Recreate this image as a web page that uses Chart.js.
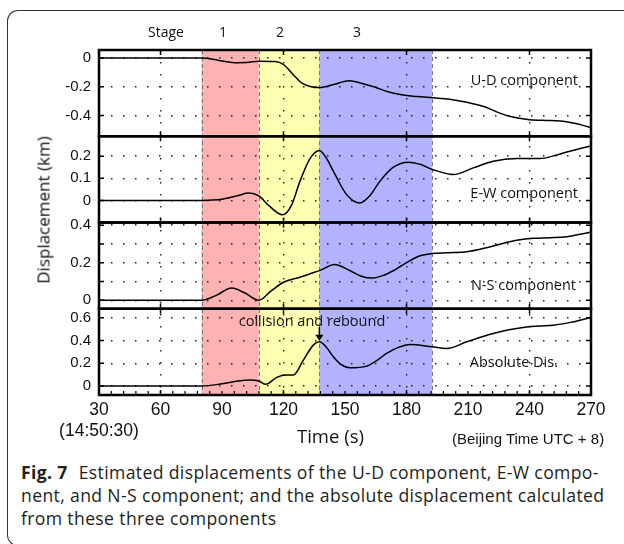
<!DOCTYPE html>
<html>
<head>
    <title>Estimated displacements</title>
    <meta charset="UTF-8">
    <style>
        body {
            margin: 0;
            width: 624px;
            height: 544px;
            overflow: hidden;
            background: #fff;
            position: relative;
            font-family: "Open Sans", sans-serif;
            color: #111;
        }
        #frame {
            position: absolute;
            left: 7px;
            top: 10px;
            width: 640px;
            height: 534px;
            border-left: 1.3px solid #333;
            border-top: 1.3px solid #333;
            border-bottom: 1.3px solid #333;
            border-radius: 11px 0 0 11px;
        }
        #chart {
            position: absolute;
            left: 0;
            top: 0;
        }
        .txt {
            position: absolute;
            line-height: 1;
            white-space: nowrap;
        }
        .stage { font-size: 14px; top: 25px; transform: translateX(-50%); }
        .comp { font-size: 14.5px; text-align: right; }
        #yTitle {
            position: absolute;
            left: 43px;
            top: 210px;
            font-size: 17px;
            line-height: 1;
            white-space: nowrap;
            transform: translate(-50%, -50%) rotate(-90deg);
        }
        #caption {
            position: absolute;
            left: 21px;
            top: 461px;
            font-size: 17.6px;
            letter-spacing: 0.36px;
            line-height: 23px;
            color: #231f20;
            white-space: nowrap;
        }
        #caption b { margin-right: 6px; }
    </style>
</head>
<body>
    <div id="frame"></div>
    <canvas id="chart" width="624" height="460"></canvas>

    <div class="txt stage" style="left:166px">Stage</div>
    <div class="txt stage" style="left:223px">1</div>
    <div class="txt stage" style="left:280px">2</div>
    <div class="txt stage" style="left:357px">3</div>

    <div class="txt comp" style="right:46px; top:73px">U-D component</div>
    <div class="txt comp" style="right:46px; top:186px">E-W component</div>
    <div class="txt comp" style="right:48px; top:278px">N-S component</div>
    <div class="txt comp" style="right:66px; top:355px">Absolute Dis.</div>
    <div class="txt comp" style="left:312px; top:314px; transform:translateX(-50%)">collision and rebound</div>

    <div id="yTitle">Displacement (km)</div>
    <div class="txt" style="left:297px; top:427px; font-size:18.5px">Time (s)</div>
    <div class="txt" style="left:452px; top:431px; font-size:15px; font-family:'Liberation Sans', Arial, sans-serif">(Beijing Time UTC + 8)</div>

    <div id="caption"><b>Fig. 7</b> Estimated displacements of the U-D component, E-W compo-<br>nent, and N-S component; and the absolute displacement calculated<br>from these three components</div>

    <script src="https://cdn.jsdelivr.net/npm/chart.js"></script>
    <script>
        // time axis (s)
        const xMin = 30;
        const xMax = 270;
        const xTickStep = 30;
        const xGridTicks = [60, 120, 180, 240];
        const startClock = '(14:50:30)';

        // stage boundaries (s) and colours
        const stageBounds = [80, 108, 137.5, 192.5];
        const stageColors = ['#ffb2b2', '#ffffb2', '#b2b2ff'];
        const collisionTime = 137.5;

        // U-D component
        const udTime = [30, 80, 88, 96, 102, 108, 116, 120, 125, 129, 133, 137.5, 145, 152, 158, 165, 171, 177, 185, 193, 201, 210, 218, 224, 229, 235, 240, 248, 255, 262, 270];
        const udValue = [0, 0, -0.015, -0.032, -0.031, -0.022, -0.024, -0.045, -0.12, -0.175, -0.198, -0.206, -0.182, -0.158, -0.175, -0.205, -0.235, -0.254, -0.268, -0.277, -0.287, -0.31, -0.34, -0.375, -0.4, -0.42, -0.43, -0.435, -0.438, -0.455, -0.485];
        const udTicks = [0, -0.2, -0.4];

        // E-W component
        const ewTime = [30, 80, 90, 98, 103, 108, 113, 119.5, 124, 128, 133, 137.5, 141, 144.3, 150.8, 157.3, 162, 167, 173.6, 181, 187, 192.6, 202.8, 212.6, 222.3, 233.8, 245, 255, 262, 270];
        const ewValue = [0, 0, 0.005, 0.022, 0.033, 0.02, -0.025, -0.065, -0.02, 0.086, 0.19, 0.226, 0.19, 0.132, 0.026, -0.012, 0.02, 0.086, 0.15, 0.173, 0.162, 0.14, 0.117, 0.147, 0.177, 0.189, 0.189, 0.21, 0.228, 0.246];
        const ewTicks = [0, 0.1, 0.2];

        // N-S component
        const nsTime = [30, 80, 87, 94.7, 101, 108, 114, 120, 128, 134, 137.5, 145, 152, 158, 163, 168, 174, 180, 186.6, 192.6, 200, 209.4, 219, 226, 233.8, 242, 250, 258, 264, 270];
        const nsValue = [0, 0, 0.025, 0.065, 0.04, 0, 0.05, 0.096, 0.123, 0.145, 0.158, 0.19, 0.16, 0.128, 0.118, 0.13, 0.16, 0.2, 0.237, 0.249, 0.253, 0.258, 0.28, 0.3, 0.319, 0.33, 0.333, 0.338, 0.35, 0.363];
        const nsTicks = [0, 0.1, 0.2, 0.3, 0.4];
        const nsLabels = ['0', '', '0.2', '', '0.4'];

        // absolute displacement
        const absTime = [30, 80, 90, 98, 103.7, 108, 111.3, 116.7, 121.5, 124.8, 129.7, 134.5, 137.5, 141, 144.3, 148, 152.4, 160.6, 166, 170.3, 176, 181.7, 192.6, 199.6, 209.4, 222.3, 230, 238.6, 245, 251.6, 260, 270];
        const absValue = [0, 0, 0.02, 0.045, 0.053, 0.044, 0.015, 0.076, 0.096, 0.096, 0.228, 0.36, 0.389, 0.34, 0.257, 0.19, 0.16, 0.175, 0.23, 0.287, 0.34, 0.366, 0.345, 0.33, 0.389, 0.462, 0.495, 0.52, 0.528, 0.535, 0.56, 0.603];
        const absTicks = [0, 0.2, 0.4, 0.6];

        const panels = [
            {id: 'yUD', time: udTime, value: udValue, ticks: udTicks, min: -0.545, max: 0.056},
            {id: 'yEW', time: ewTime, value: ewValue, ticks: ewTicks, min: -0.1, max: 0.29},
            {id: 'yNS', time: nsTime, value: nsValue, ticks: nsTicks, labels: nsLabels, min: -0.045, max: 0.414},
            {id: 'yAbs', time: absTime, value: absValue, ticks: absTicks, min: -0.079, max: 0.68}
        ];

        const tickFont = {family: "'Liberation Sans', Arial, sans-serif", size: 15};
        const dotted = [1.5, 10.5];

        const scales = {
            x: {
                type: 'linear',
                position: 'bottom',
                min: xMin,
                max: xMax,
                afterFit: s => { s.height = 65; },
                ticks: {
                    stepSize: xTickStep,
                    maxRotation: 0,
                    autoSkip: false,
                    padding: 4,
                    color: '#111',
                    font: {family: tickFont.family, size: 17.5, lineHeight: 1.24},
                    callback: v => v === xMin ? [String(v), startClock] : String(v)
                },
                grid: {
                    drawTicks: false,
                    lineWidth: 1.4,
                    color: c => xGridTicks.includes(c.tick && c.tick.value) ? '#222' : 'rgba(0,0,0,0)'
                },
                border: {display: false, dash: dotted}
            }
        };

        panels.forEach((p, i) => {
            scales[p.id] = {
                type: 'linear',
                position: 'left',
                stack: 'panels',
                stackWeight: 1,
                weight: panels.length - i,
                min: p.min,
                max: p.max,
                afterFit: s => { s.width = 99; },
                afterBuildTicks: s => { s.ticks = p.ticks.map(v => ({value: v})); },
                ticks: {
                    autoSkip: false,
                    padding: 8,
                    color: '#111',
                    font: tickFont,
                    callback: (v, idx) => p.labels ? p.labels[idx] : String(v)
                },
                grid: {drawTicks: false, lineWidth: 1.4, color: '#222'},
                border: {display: false, dash: dotted}
            };
        });

        const panelPlugin = {
            id: 'panelPlugin',
            beforeDraw(chart) {
                const {ctx, chartArea: a} = chart;
                const x = chart.scales.x;
                ctx.save();
                stageColors.forEach((c, i) => {
                    const x0 = x.getPixelForValue(stageBounds[i]);
                    const x1 = x.getPixelForValue(stageBounds[i + 1]);
                    ctx.fillStyle = c;
                    ctx.fillRect(x0, a.top, x1 - x0, a.bottom - a.top);
                });
                ctx.restore();
            },
            beforeDatasetsDraw(chart) {
                const {ctx, chartArea: a} = chart;
                const x = chart.scales.x;
                ctx.save();
                ctx.strokeStyle = '#777';
                ctx.lineWidth = 1;
                ctx.setLineDash([4, 3]);
                stageBounds.forEach(t => {
                    const px = Math.round(x.getPixelForValue(t)) + 0.5;
                    ctx.beginPath();
                    ctx.moveTo(px, a.top);
                    ctx.lineTo(px, a.bottom);
                    ctx.stroke();
                });
                ctx.restore();
            },
            afterDatasetsDraw(chart) {
                const {ctx, chartArea: a} = chart;
                const x = chart.scales.x;
                ctx.save();
                ctx.strokeStyle = '#000';
                ctx.fillStyle = '#000';
                panels.forEach(p => {
                    const s = chart.scales[p.id];
                    // ticks
                    ctx.lineWidth = 1.5;
                    ctx.beginPath();
                    xGridTicks.forEach(t => {
                        const px = x.getPixelForValue(t);
                        ctx.moveTo(px, s.top); ctx.lineTo(px, s.top + 5);
                        ctx.moveTo(px, s.bottom); ctx.lineTo(px, s.bottom - 5);
                    });
                    p.ticks.forEach(v => {
                        const py = s.getPixelForValue(v);
                        ctx.moveTo(a.left, py); ctx.lineTo(a.left + 5, py);
                        ctx.moveTo(a.right, py); ctx.lineTo(a.right - 5, py);
                    });
                    ctx.stroke();
                    // frame
                    ctx.lineWidth = 2.5;
                    ctx.strokeRect(a.left, s.top, a.right - a.left, s.bottom - s.top);
                });
                // minor ticks on the time axis
                ctx.lineWidth = 1.2;
                ctx.beginPath();
                for (let t = xMin; t <= xMax; t += 6) {
                    const px = x.getPixelForValue(t);
                    ctx.moveTo(px, a.bottom); ctx.lineTo(px, a.bottom - 4);
                }
                ctx.stroke();
                // collision arrow
                const yAbs = chart.scales.yAbs;
                const ax = x.getPixelForValue(collisionTime);
                const tip = yAbs.getPixelForValue(absValue[absTime.indexOf(collisionTime)]) - 1;
                ctx.lineWidth = 1.5;
                ctx.beginPath();
                ctx.moveTo(ax, tip - 14); ctx.lineTo(ax, tip - 5);
                ctx.stroke();
                ctx.beginPath();
                ctx.moveTo(ax - 4, tip - 6); ctx.lineTo(ax + 4, tip - 6); ctx.lineTo(ax, tip);
                ctx.closePath();
                ctx.fill();
                ctx.restore();
            }
        };

        new Chart(document.getElementById('chart').getContext('2d'), {
            type: 'line',
            data: {
                datasets: panels.map(p => ({
                    data: p.time.map((t, i) => ({x: t, y: p.value[i]})),
                    yAxisID: p.id,
                    borderColor: '#000',
                    borderWidth: 1.5,
                    pointRadius: 0,
                    cubicInterpolationMode: 'monotone',
                    fill: false
                }))
            },
            options: {
                responsive: false,
                animation: false,
                devicePixelRatio: 1,
                layout: {padding: {top: 50, right: 33, left: 0, bottom: 0}},
                plugins: {legend: {display: false}, tooltip: {enabled: false}},
                scales: scales
            },
            plugins: [panelPlugin]
        });
    </script>
</body>
</html>
